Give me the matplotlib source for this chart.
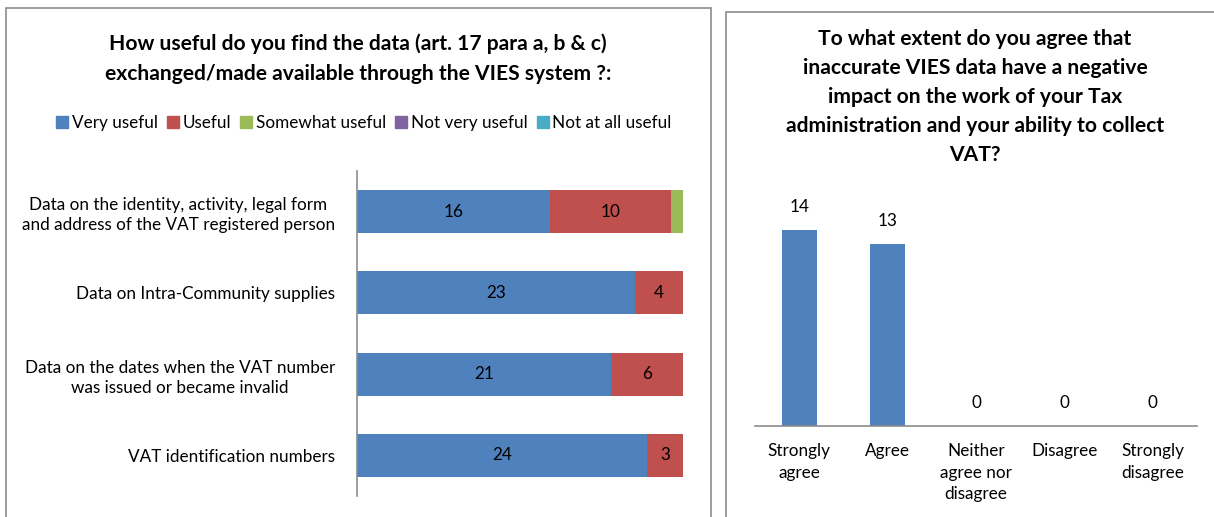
import matplotlib.pyplot as plt
from matplotlib.patches import Rectangle
import numpy as np

plt.rcParams['font.family'] = ['Lato', 'DejaVu Sans']
plt.rcParams['text.color'] = '#000000'

# Left chart: usefulness of exchanged data (stacked)
row_labels = [
    'Data on the identity, activity, legal form\nand address of the VAT registered person',
    'Data on Intra-Community supplies',
    'Data on the dates when the VAT number\nwas issued or became invalid',
    'VAT identification numbers',
]
series_names = ['Very useful', 'Useful', 'Somewhat useful', 'Not very useful', 'Not at all useful']
very_useful = [16, 23, 21, 24]
useful = [10, 4, 6, 3]
somewhat_useful = [1, 0, 0, 0]
not_very_useful = [0, 0, 0, 0]
not_at_all_useful = [0, 0, 0, 0]
series_colors = ['#4F81BD', '#C0504D', '#9BBB59', '#8064A2', '#4BACC6']

# Right chart: impact of inaccurate data
agree_cats = ['Strongly\nagree', 'Agree', 'Neither\nagree nor\ndisagree', 'Disagree', 'Strongly\ndisagree']
agree_counts = [14, 13, 0, 0, 0]

W, H = 1214, 517
fig = plt.figure(figsize=(W / 100, H / 100), dpi=100)

def fx(px):
    return px / W

def fy(py):
    return 1 - py / H

# panel borders
fig.patches.append(Rectangle((fx(6), fy(530)), fx(711) - fx(6), fy(8) - fy(530),
                             transform=fig.transFigure, fill=False, edgecolor='#8c8c8c', lw=1.2))
fig.patches.append(Rectangle((fx(726), fy(530)), fx(1230) - fx(726), fy(12) - fy(530),
                             transform=fig.transFigure, fill=False, edgecolor='#8c8c8c', lw=1.2))

BODY = 12.3

# ---- left chart ----
ax1 = fig.add_axes([fx(357), fy(496), fx(683) - fx(357), fy(171) - fy(496)])
all_series = [very_useful, useful, somewhat_useful, not_very_useful, not_at_all_useful]
y = np.arange(len(row_labels))
left = np.zeros(len(row_labels))
for name, vals, col in zip(series_names, all_series, series_colors):
    vals = np.array(vals, dtype=float)
    ax1.barh(y, vals, left=left, height=0.53, color=col, label=name)
    for yi, (l, v) in enumerate(zip(left, vals)):
        if v >= 2:
            ax1.text(l + v / 2, yi, str(int(v)), ha='center', va='center', fontsize=BODY)
    left += vals
ax1.set_xlim(0, 27)
ax1.set_ylim(3.5, -0.5)
ax1.set_yticks(y)
ax1.set_yticklabels(row_labels, fontsize=BODY, multialignment='center', linespacing=1.3)
ax1.tick_params(axis='y', length=0, pad=16)
ax1.set_xticks([])
for s in ['top', 'right', 'bottom']:
    ax1.spines[s].set_visible(False)
ax1.spines['left'].set_color('#8c8c8c')
ax1.spines['left'].set_linewidth(1.2)

fig.text(fx(358), fy(59), 'How useful do you find the data (art. 17 para a, b & c)\n'
         'exchanged/made available through the VIES system ?:',
         ha='center', va='center', fontsize=15.1, fontweight='bold', linespacing=1.6)

handles = [Rectangle((0, 0), 1, 1, color=c) for c in series_colors]
fig.legend(handles, series_names, loc='center', bbox_to_anchor=(fx(364), fy(123)),
           ncol=5, frameon=False, fontsize=BODY, handlelength=0.7, handleheight=0.7,
           handletextpad=0.2, columnspacing=0.55)

# ---- right chart ----
ax2 = fig.add_axes([fx(755), fy(426), fx(1197) - fx(755), fy(202) - fy(426)])
x = np.arange(len(agree_cats))
bars = ax2.bar(x, agree_counts, width=0.4, color='#4F81BD')
for b, v in zip(bars, agree_counts):
    ax2.annotate(str(v), xy=(b.get_x() + b.get_width() / 2, v), xytext=(0, 11),
                 textcoords='offset points', ha='center', va='bottom', fontsize=BODY)
ax2.set_xlim(-0.5, 4.5)
ax2.set_ylim(0, 16)
ax2.set_xticks(x)
ax2.set_xticklabels(agree_cats, fontsize=BODY, linespacing=1.45)
ax2.tick_params(axis='x', length=0, pad=12)
ax2.set_yticks([])
for s in ['top', 'right', 'left']:
    ax2.spines[s].set_visible(False)
ax2.spines['bottom'].set_color('#8c8c8c')
ax2.spines['bottom'].set_linewidth(1.2)

fig.text(fx(975), fy(97), 'To what extent do you agree that\ninaccurate VIES data have a negative\n'
         'impact on the work of your Tax\nadministration and your ability to collect\nVAT?',
         ha='center', va='center', fontsize=15.1, fontweight='bold', linespacing=1.55)

fig.savefig('out.png', dpi=100)
